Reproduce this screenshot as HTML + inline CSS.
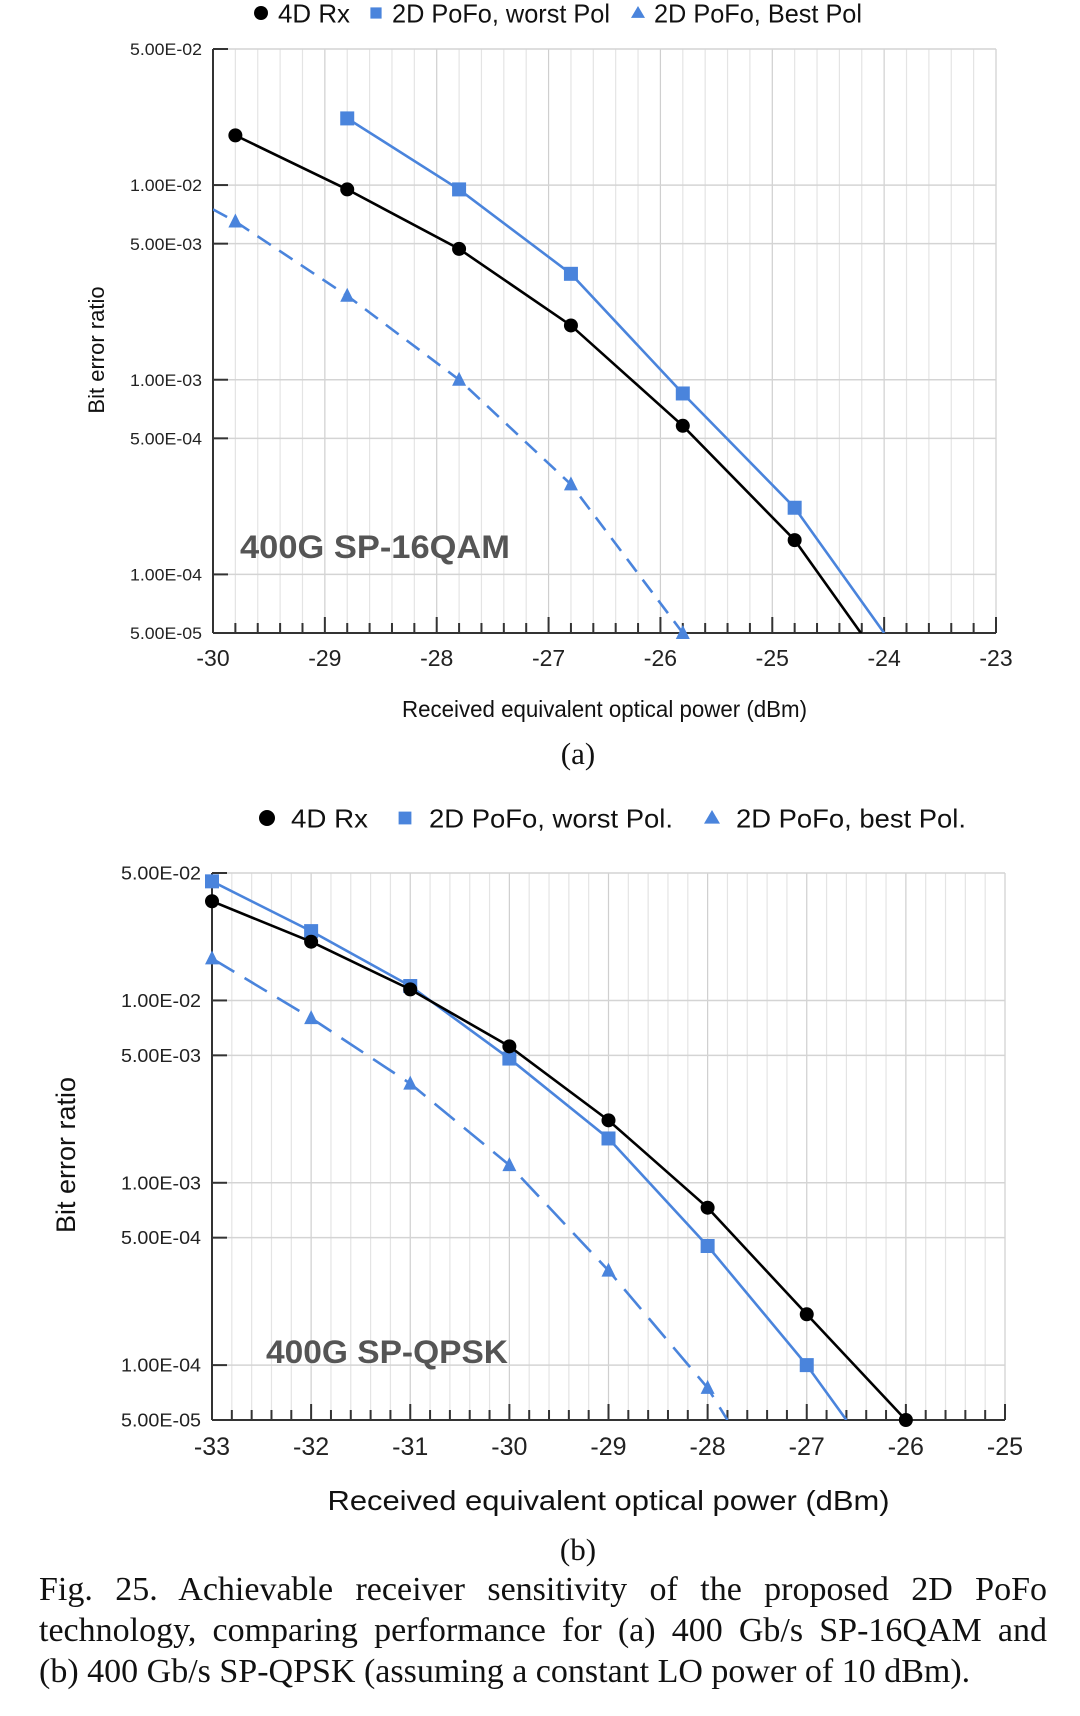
<!DOCTYPE html>
<html><head><meta charset="utf-8"><style>
html,body{margin:0;padding:0;background:#fff;}
body{width:1080px;height:1716px;position:relative;overflow:hidden;font-family:"Liberation Sans",sans-serif;}
svg{position:absolute;left:0;top:0;}
.cap{position:absolute;left:39px;width:1008px;font-family:"Liberation Serif",serif;font-size:34px;line-height:41px;color:#111;text-align:justify;text-align-last:justify;}
</style></head><body>
<svg id="chart" width="1080" height="1716"></svg>
<div class="cap" style="top:1569px">Fig. 25. Achievable receiver sensitivity of the proposed 2D PoFo technology, comparing performance for (a) 400 Gb/s SP-16QAM and</div>
<div class="cap" style="top:1651px;text-align-last:left">(b) 400 Gb/s SP-QPSK (assuming a constant LO power of 10 dBm).</div>
<script>
// ---- Chart (a) data: 400G SP-16QAM ----
const aXTicks = [-30,-29,-28,-27,-26,-25,-24,-23];
const aYTicks = [5e-2,1e-2,5e-3,1e-3,5e-4,1e-4,5e-5];
const aYTickLabels = ["5.00E-02","1.00E-02","5.00E-03","1.00E-03","5.00E-04","1.00E-04","5.00E-05"];
const a4dX = [-29.8,-28.8,-27.8,-26.8,-25.8,-24.8,-24.0];
const a4dY = [1.8e-2,9.5e-3,4.7e-3,1.9e-3,5.8e-4,1.5e-4,3.4e-5];
const aWorstX = [-28.8,-27.8,-26.8,-25.8,-24.8,-24.0];
const aWorstY = [2.2e-2,9.5e-3,3.5e-3,8.5e-4,2.2e-4,5.0e-5];
const aBestX = [-30.0,-29.8,-28.8,-27.8,-26.8,-25.8];
const aBestY = [7.5e-3,6.5e-3,2.7e-3,1.0e-3,2.9e-4,5.0e-5];
// ---- Chart (b) data: 400G SP-QPSK ----
const bXTicks = [-33,-32,-31,-30,-29,-28,-27,-26,-25];
const bYTicks = [5e-2,1e-2,5e-3,1e-3,5e-4,1e-4,5e-5];
const bYTickLabels = ["5.00E-02","1.00E-02","5.00E-03","1.00E-03","5.00E-04","1.00E-04","5.00E-05"];
const b4dX = [-33,-32,-31,-30,-29,-28,-27,-26];
const b4dY = [3.5e-2,2.1e-2,1.15e-2,5.6e-3,2.2e-3,7.3e-4,1.9e-4,5.0e-5];
const bWorstX = [-33,-32,-31,-30,-29,-28,-27,-26.6];
const bWorstY = [4.5e-2,2.4e-2,1.2e-2,4.8e-3,1.75e-3,4.5e-4,1.0e-4,5.0e-5];
const bBestX = [-33,-32,-31,-30,-29,-28,-27.8];
const bBestY = [1.7e-2,8.0e-3,3.5e-3,1.25e-3,3.3e-4,7.5e-5,5.0e-5];

const NS="http://www.w3.org/2000/svg";
const svg=document.getElementById('chart');
const BLUE="#4a84dc";
function mk(tag,attrs,parent){const e=document.createElementNS(NS,tag);for(const k in attrs)e.setAttribute(k,attrs[k]);(parent||svg).appendChild(e);return e;}
function txt(s,attrs,parent){const e=mk('text',attrs,parent);e.textContent=s;if(attrs.textLength)e.setAttribute('lengthAdjust','spacingAndGlyphs');return e;}

function drawChart(cfg){
  const g=mk('g',{});
  
  
  const xs=v=>cfg.L+(v-cfg.xMin)/(cfg.xMax-cfg.xMin)*(cfg.R-cfg.L);
  const lt=Math.log10(cfg.yMax), lb=Math.log10(cfg.yMin);
  const ys=v=>cfg.T+(lt-Math.log10(v))/(lt-lb)*(cfg.B-cfg.T);
  for(let i=0;i<=(cfg.xMax-cfg.xMin)*5;i++){
    const v=cfg.xMin+i*0.2, x=xs(v), major=i%5===0;
    const l=mk('line',{x1:x,x2:x,y1:cfg.T,y2:cfg.B,stroke:major?'#cfcfcf':'#e4e4e4','stroke-width':1.2},g);
    
    
    const t=mk('line',{x1:x,x2:x,y1:cfg.B,y2:cfg.B-(major?16:10),stroke:'#333','stroke-width':2},g);
    
    
  }
  cfg.yTicks.forEach((v,i)=>{
    const y=ys(v);
    const l=mk('line',{x1:cfg.L,x2:cfg.R,y1:y,y2:y,stroke:'#d4d4d4','stroke-width':1.5},g);
    
    
    mk('line',{x1:cfg.L,x2:cfg.L+15,y1:y,y2:y,stroke:'#333','stroke-width':2},g);
    const t=txt(cfg.yLabels[i],{x:cfg.L-11,y:y+cfg.yfs*0.36,'font-size':cfg.yfs,'text-anchor':'end',fill:'#222',textLength:cfg.yLen},g);
    
    
  });
  cfg.xTicks.forEach(v=>{
    const t=txt(String(v),{x:xs(v),y:cfg.B+cfg.xfs+10,'font-size':cfg.xfs,'text-anchor':'middle',fill:'#222'},g);
    
    
  });
  mk('line',{x1:cfg.L,x2:cfg.L,y1:cfg.T,y2:cfg.B,stroke:'#333','stroke-width':2},g);
  mk('line',{x1:cfg.L,x2:cfg.R,y1:cfg.B,y2:cfg.B,stroke:'#333','stroke-width':2},g);
  mk('line',{x1:cfg.R,x2:cfg.R,y1:cfg.B-16,y2:cfg.B,stroke:'#333','stroke-width':2},g);
  const cid='clip-'+cfg.name;
  const cp=mk('clipPath',{id:cid},g);
  mk('rect',{x:cfg.L,y:cfg.T-10,width:cfg.R-cfg.L,height:cfg.B-cfg.T+10},cp);
  cfg.series.forEach(s=>{
    const pts=s.x.map((v,i)=>xs(v)+','+ys(s.y[i])).join(' ');
    const pl=mk('polyline',{points:pts,fill:'none',stroke:s.color,'stroke-width':2.6,'stroke-dasharray':s.dash||'none','clip-path':'url(#'+cid+')'},g);
    
    
    s.x.forEach((v,i)=>{
      if(s.skip && s.skip.includes(i))return;
      const cx=xs(v), cy=ys(s.y[i]);
      let m;
      if(s.shape==='circle') m=mk('circle',{cx:cx,cy:cy,r:7,fill:s.color},g);
      else if(s.shape==='square') m=mk('rect',{x:cx-7,y:cy-7,width:14,height:14,fill:s.color},g);
      else m=mk('polygon',{points:`${cx},${cy-8} ${cx-7},${cy+6} ${cx+7},${cy+6}`,fill:s.color},g);
      
      
    });
  });
  const ti=txt(cfg.title,{x:cfg.titleX,y:cfg.titleY,'font-size':cfg.tfs,'font-weight':'bold',fill:'#555',textLength:cfg.tLen},g);
  
  
  const yl=txt('Bit error ratio',{x:0,y:0,'font-size':cfg.ylfs,'text-anchor':'middle',fill:'#111',transform:`translate(${cfg.ylX},${cfg.ylY}) rotate(-90)`},g);
  
  
  const xl=txt('Received equivalent optical power (dBm)',{x:(cfg.L+cfg.R)/2+cfg.xlDx,y:cfg.xlY,'font-size':cfg.xlfs,'text-anchor':'middle',fill:'#111',textLength:cfg.xlLen},g);
  
  
  const sub=txt(cfg.sub,{x:578,y:cfg.subY,'font-size':31,'text-anchor':'middle','font-family':'Liberation Serif, serif',fill:'#111'},g);
  
  
  cfg.legend.forEach(it=>{
    const lg=mk('g',{},g);
    
    
    const y=cfg.legY;
    if(it.shape==='circle') mk('circle',{cx:it.mx,cy:y,r:cfg.legR,fill:'#000'},lg);
    else if(it.shape==='square') mk('rect',{x:it.mx-cfg.legR*0.8,y:y-cfg.legR*0.8,width:cfg.legR*1.6,height:cfg.legR*1.6,fill:BLUE},lg);
    else mk('polygon',{points:`${it.mx},${y-cfg.legR} ${it.mx-cfg.legR},${y+cfg.legR*0.7} ${it.mx+cfg.legR},${y+cfg.legR*0.7}`,fill:BLUE},lg);
    txt(it.label,{x:it.tx,y:y+cfg.legFs*0.36,'font-size':cfg.legFs,fill:'#111',textLength:it.len},lg);
  });
}

drawChart({name:'chart-a-16qam',L:213,R:996,T:49,B:633,xMin:-30,xMax:-23,yMax:5e-2,yMin:5e-5,
  xTicks:aXTicks,yTicks:aYTicks,yLabels:aYTickLabels,yfs:17,yLen:72,xfs:23,
  series:[
    {name:'best-pol',x:aBestX,y:aBestY,color:BLUE,shape:'tri',dash:'16,10',skip:[0]},
    {name:'worst-pol',x:aWorstX,y:aWorstY,color:BLUE,shape:'square',skip:[5]},
    {name:'4d-rx',x:a4dX,y:a4dY,color:'#000',shape:'circle',skip:[6]}],
  title:'400G SP-16QAM',titleX:240,titleY:558,tfs:32,tLen:270,ylX:104,ylY:350,ylfs:22,
  xlY:717,xlfs:23,xlDx:0,xlLen:405,sub:'(a)',subY:764,
  legY:13,legR:7,legFs:26,legend:[
    {shape:'circle',mx:261,tx:278,label:'4D Rx',len:72},
    {shape:'square',mx:376,tx:392,label:'2D PoFo, worst Pol',len:218},
    {shape:'tri',mx:638,tx:654,label:'2D PoFo, Best Pol',len:208}]});

drawChart({name:'chart-b-qpsk',L:212,R:1005,T:873,B:1420,xMin:-33,xMax:-25,yMax:5e-2,yMin:5e-5,
  xTicks:bXTicks,yTicks:bYTicks,yLabels:bYTickLabels,yfs:18,yLen:80,xfs:25,
  series:[
    {name:'best-pol',x:bBestX,y:bBestY,color:BLUE,shape:'tri',dash:'26,12',skip:[6]},
    {name:'worst-pol',x:bWorstX,y:bWorstY,color:BLUE,shape:'square',skip:[7]},
    {name:'4d-rx',x:b4dX,y:b4dY,color:'#000',shape:'circle'}],
  title:'400G SP-QPSK',titleX:266,titleY:1363,tfs:32,tLen:242,ylX:75,ylY:1155,ylfs:27,
  xlY:1510,xlfs:28,xlDx:0,xlLen:562,sub:'(b)',subY:1560,
  legY:818,legR:8,legFs:26,legend:[
    {shape:'circle',mx:267,tx:291,label:'4D Rx',len:77},
    {shape:'square',mx:405,tx:429,label:'2D PoFo, worst Pol.',len:244},
    {shape:'tri',mx:712,tx:736,label:'2D PoFo, best Pol.',len:230}]});
</script>
</body></html>
